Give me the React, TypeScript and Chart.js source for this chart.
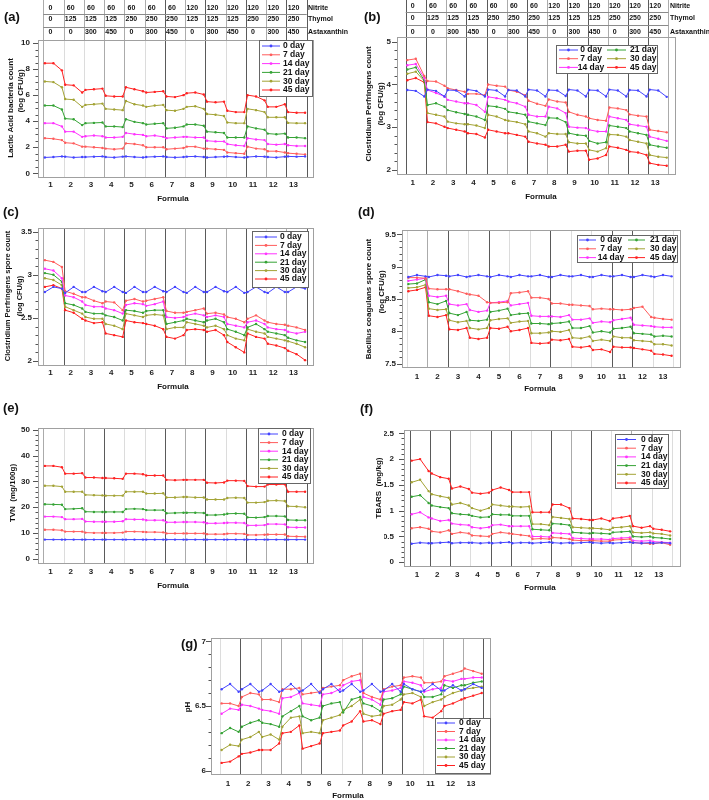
import React, { useEffect, useRef } from 'react';
import { Chart, registerables } from 'chart.js';
Chart.register(...registerables);

const FONT = '"Liberation Sans", Arial, Helvetica, sans-serif';
Chart.defaults.font.family = FONT;

// ---------- shared categories ----------
const formulas = [1, 2, 3, 4, 5, 6, 7, 8, 9, 10, 11, 12, 13];
const nitrite = ['0', '60', '60', '60', '60', '60', '60', '120', '120', '120', '120', '120', '120'];
const thymol = ['0', '125', '125', '125', '250', '250', '250', '125', '125', '125', '250', '250', '250'];
const astaxanthin = ['0', '0', '300', '450', '0', '300', '450', '0', '300', '450', '0', '300', '450'];
const dayLabels = ['0 day', '7 day', '14 day', '21 day', '30 day', '45 day'];
const dayColors = ['#4444ff', '#ff5c5c', '#ff33ff', '#35a335', '#a3a335', '#ff2222'];
const pointOffsets = [0.08, 0.5, 0.92];

// ---------- (a) Lactic acid bacteria ----------
const labDay0 = [1.22,1.25,1.3, 1.28,1.22,1.25, 1.25,1.28,1.3, 1.25,1.22,1.28, 1.3,1.25,1.22, 1.25,1.28,1.3, 1.25,1.22,1.25, 1.28,1.3,1.25, 1.22,1.25,1.28, 1.3,1.25,1.22, 1.25,1.3,1.28, 1.25,1.22,1.28, 1.3,1.28,1.3];
const labDay7 = [2.7,2.65,2.55, 2.35,2.3,2.05, 2.05,2.0,1.95, 1.9,1.85,1.9, 2.3,2.25,2.15, 2.0,2.0,2.0, 1.85,1.9,1.95, 2.05,2.05,1.9, 1.9,1.85,1.8, 1.6,1.55,1.5, 2.05,1.9,1.85, 1.7,1.7,1.6, 1.55,1.5,1.45];
const labDay14 = [3.85,3.85,3.6, 3.2,3.2,2.8, 2.85,2.9,2.85, 2.75,2.75,2.8, 3.1,3.0,2.95, 2.85,2.9,2.8, 2.7,2.75,2.8, 2.8,2.75,2.75, 2.5,2.45,2.45, 2.25,2.15,2.1, 2.7,2.6,2.55, 2.25,2.2,2.25, 2.15,2.1,2.1];
const labDay21 = [5.2,5.2,4.9, 4.2,4.15,3.7, 3.85,3.87,3.9, 3.6,3.6,3.55, 4.15,3.95,3.85, 3.75,3.8,3.85, 3.45,3.5,3.6, 3.75,3.75,3.65, 3.2,3.15,3.1, 2.75,2.75,2.75, 3.6,3.45,3.35, 3.05,3.0,3.05, 2.75,2.75,2.7];
const labDay30 = [7.05,7.0,6.6, 5.7,5.65,5.1, 5.25,5.3,5.35, 4.95,4.9,4.85, 5.55,5.3,5.2, 5.1,5.2,5.25, 4.85,4.8,4.95, 5.1,5.15,4.95, 4.55,4.5,4.4, 3.9,3.85,3.85, 4.95,4.85,4.7, 4.3,4.3,4.3, 3.87,3.85,3.85];
const labDay45 = [8.45,8.45,7.9, 6.8,6.75,6.2, 6.4,6.45,6.5, 5.95,5.9,5.9, 6.6,6.45,6.3, 6.2,6.25,6.3, 5.9,5.85,6.0, 6.15,6.2,6.05, 5.5,5.45,5.5, 4.8,4.7,4.7, 6.0,5.9,5.6, 5.1,5.1,5.3, 4.7,4.65,4.65];

// ---------- (b) Clostridium perfringens count ----------
const cpDay0 = [3.87,3.85,3.72, 3.88,3.85,3.72, 3.87,3.86,3.72, 3.88,3.85,3.72, 3.88,3.86,3.72, 3.87,3.86,3.72, 3.88,3.86,3.72, 3.87,3.86,3.73, 3.88,3.86,3.72, 3.87,3.86,3.72, 3.88,3.86,3.72, 3.87,3.86,3.72, 3.88,3.86,3.71];
const cpDay7 = [4.57,4.6,4.2, 4.08,4.07,3.97, 3.91,3.87,3.83, 3.78,3.78,3.75, 4.0,3.97,3.95, 3.87,3.83,3.75, 3.62,3.55,3.5, 3.65,3.6,3.58, 3.36,3.29,3.25, 3.21,3.17,3.15, 3.46,3.44,3.4, 3.3,3.27,3.25, 2.94,2.91,2.88];
const cpDay14 = [4.45,4.48,4.15, 3.87,3.8,3.72, 3.64,3.6,3.56, 3.56,3.52,3.36, 3.71,3.68,3.64, 3.6,3.56,3.48, 3.29,3.25,3.25, 3.48,3.44,3.33, 3.01,2.99,2.98, 2.94,2.9,2.9, 3.25,3.21,3.17, 3.07,3.04,3.01, 2.78,2.73,2.68];
const cpDay21 = [4.35,4.4,4.1, 3.52,3.56,3.48, 3.4,3.35,3.31, 3.29,3.25,3.17, 3.5,3.48,3.43, 3.36,3.33,3.29, 3.13,3.09,3.05, 3.22,3.21,3.12, 2.86,2.82,2.8, 2.68,2.62,2.65, 3.04,3.01,2.98, 2.9,2.86,2.82, 2.59,2.55,2.52];
const cpDay30 = [4.25,4.3,4.08, 3.33,3.29,3.25, 3.13,3.09,3.07, 3.07,3.04,2.98, 3.29,3.25,3.17, 3.15,3.12,3.07, 2.9,2.86,2.78, 2.86,2.84,2.84, 2.65,2.62,2.62, 2.47,2.43,2.51, 2.83,2.82,2.78, 2.7,2.66,2.62, 2.35,2.31,2.29];
const cpDay45 = [4.1,4.15,4.05, 3.12,3.09,3.01, 2.98,2.94,2.9, 2.86,2.84,2.76, 2.94,2.9,2.86, 2.86,2.82,2.78, 2.66,2.62,2.59, 2.55,2.55,2.59, 2.43,2.45,2.45, 2.24,2.27,2.35, 2.55,2.52,2.47, 2.43,2.41,2.35, 2.16,2.12,2.1];

// ---------- (c) Clostridium perfringens spore count ----------
const cpsDay0 = [2.8,2.86,2.84, 2.79,2.86,2.8, 2.8,2.86,2.81, 2.8,2.86,2.8, 2.79,2.86,2.8, 2.8,2.86,2.81, 2.8,2.86,2.8, 2.79,2.86,2.8, 2.8,2.86,2.81, 2.8,2.86,2.79, 2.8,2.86,2.8, 2.79,2.86,2.8, 2.8,2.86,2.84];
const cpsDay7 = [3.17,3.15,3.09, 2.81,2.78,2.74, 2.74,2.7,2.67, 2.69,2.68,2.59, 2.7,2.72,2.69, 2.7,2.72,2.74, 2.58,2.56,2.56, 2.57,2.59,2.61, 2.55,2.56,2.54, 2.51,2.49,2.45, 2.49,2.53,2.47, 2.45,2.43,2.42, 2.41,2.39,2.36];
const cpsDay14 = [3.07,3.05,2.96, 2.76,2.74,2.69, 2.65,2.63,2.63, 2.61,2.59,2.55, 2.65,2.67,2.66, 2.64,2.66,2.69, 2.51,2.5,2.51, 2.53,2.55,2.53, 2.51,2.53,2.51, 2.43,2.41,2.39, 2.45,2.47,2.43, 2.39,2.37,2.36, 2.34,2.32,2.34];
const cpsDay21 = [3.02,3.0,2.92, 2.67,2.65,2.61, 2.57,2.55,2.55, 2.53,2.51,2.47, 2.59,2.58,2.56, 2.58,2.59,2.59, 2.43,2.45,2.47, 2.49,2.47,2.45, 2.47,2.49,2.45, 2.37,2.34,2.3, 2.39,2.43,2.37, 2.34,2.32,2.3, 2.27,2.24,2.22];
const cpsDay30 = [2.96,2.94,2.88, 2.63,2.59,2.55, 2.51,2.49,2.49, 2.43,2.41,2.37, 2.55,2.53,2.51, 2.53,2.54,2.53, 2.37,2.39,2.39, 2.45,2.43,2.41, 2.39,2.41,2.37, 2.3,2.26,2.24, 2.37,2.34,2.32, 2.28,2.26,2.24, 2.23,2.2,2.16];
const cpsDay45 = [2.86,2.88,2.84, 2.59,2.56,2.49, 2.47,2.44,2.45, 2.32,2.3,2.28, 2.47,2.45,2.44, 2.43,2.41,2.37, 2.28,2.26,2.3, 2.36,2.37,2.36, 2.34,2.36,2.3, 2.22,2.16,2.1, 2.32,2.28,2.26, 2.2,2.18,2.15, 2.12,2.08,2.01];

// ---------- (d) Bacillus coagulans spore count ----------
const bcDay0 = [8.84,8.87,8.85, 8.84,8.87,8.86, 8.85,8.87,8.84, 8.85,8.87,8.85, 8.84,8.87,8.85, 8.84,8.87,8.85, 8.85,8.87,8.84, 8.84,8.87,8.85, 8.85,8.87,8.84, 8.84,8.87,8.85, 8.85,8.87,8.84, 8.84,8.87,8.85, 8.84,8.87,8.85];
const bcDay7 = [8.83,8.83,8.82, 8.66,8.65,8.65, 8.65,8.62,8.58, 8.57,8.55,8.45, 8.44,8.44,8.45, 8.59,8.6,8.62, 8.52,8.52,8.5, 8.43,8.43,8.41, 8.41,8.4,8.39, 8.34,8.35,8.34, 8.34,8.33,8.34, 8.36,8.38,8.22, 8.21,8.19,8.18];
const bcDay14 = [8.78,8.8,8.82, 8.55,8.53,8.55, 8.42,8.4,8.42, 8.33,8.3,8.32, 8.44,8.45,8.47, 8.4,8.42,8.44, 8.24,8.23,8.23, 8.23,8.22,8.25, 8.18,8.18,8.2, 8.13,8.15,8.14, 8.17,8.19,8.21, 8.1,8.09,8.08, 8.07,8.06,8.06];
const bcDay21 = [8.73,8.74,8.8, 8.45,8.42,8.47, 8.28,8.25,8.3, 8.17,8.16,8.18, 8.3,8.32,8.35, 8.25,8.27,8.28, 8.12,8.12,8.11, 8.12,8.13,8.15, 8.05,8.05,8.08, 7.98,8.0,7.98, 8.04,8.05,8.07, 7.97,7.96,7.95, 7.92,7.93,7.92];
const bcDay30 = [8.67,8.68,8.72, 8.35,8.33,8.34, 8.17,8.14,8.16, 8.05,8.03,8.05, 8.17,8.19,8.2, 8.13,8.15,8.16, 7.97,7.97,7.98, 8.0,7.99,8.02, 7.9,7.89,7.92, 7.85,7.87,7.85, 7.92,7.9,7.9, 7.86,7.85,7.84, 7.8,7.8,7.78];
const bcDay45 = [8.62,8.64,8.68, 8.24,8.22,8.25, 8.03,8.02,8.05, 7.9,7.88,7.9, 8.05,8.04,8.07, 8.0,8.02,8.05, 7.82,7.81,7.82, 7.87,7.86,7.88, 7.76,7.75,7.77, 7.71,7.72,7.68, 7.76,7.75,7.75, 7.74,7.72,7.7, 7.65,7.64,7.62];

// ---------- (e) TVN ----------
const tvnDay0 = [7.5,7.5,7.5, 7.5,7.5,7.5, 7.5,7.5,7.5, 7.5,7.5,7.5, 7.5,7.5,7.5, 7.5,7.5,7.5, 7.5,7.5,7.5, 7.5,7.5,7.5, 7.5,7.5,7.5, 7.5,7.5,7.5, 7.5,7.5,7.5, 7.5,7.5,7.5, 7.5,7.5,7.5];
const tvnDay7 = [11.3,11.3,11.1, 10.6,10.6,10.6, 10.2,10.1,10.1, 10.1,10.1,10.2, 10.6,10.6,10.5, 10.4,10.4,10.3, 9.9,9.9,9.9, 9.9,9.9,9.9, 9.6,9.6,9.6, 9.8,9.8,9.7, 9.3,9.3,9.4, 9.5,9.5,9.5, 8.8,8.7,8.6];
const tvnDay14 = [16.4,16.4,16.2, 15.4,15.4,15.5, 14.5,14.4,14.4, 14.4,14.4,14.6, 15.4,15.3,15.3, 15.0,15.0,15.0, 14.2,14.2,14.3, 14.3,14.3,14.2, 13.8,13.8,13.9, 14.0,14.0,13.9, 13.0,13.0,13.1, 13.5,13.5,13.4, 12.3,12.2,12.2];
const tvnDay21 = [21.2,21.1,21.0, 19.3,19.4,19.6, 18.3,18.2,18.2, 18.2,18.2,18.2, 19.3,19.4,19.3, 18.9,18.9,18.9, 17.7,17.8,17.9, 17.9,17.9,17.8, 17.0,17.0,17.2, 17.5,17.6,17.5, 16.1,16.0,16.2, 16.6,16.6,16.5, 15.1,15.0,15.0];
const tvnDay30 = [28.3,28.3,28.0, 26.0,26.0,26.0, 24.8,24.7,24.6, 24.5,24.5,24.5, 26.0,26.0,26.0, 25.3,25.3,25.4, 23.8,23.8,24.0, 24.0,23.8,23.8, 23.0,23.0,23.0, 23.6,23.7,23.6, 21.8,21.8,22.0, 22.5,22.6,22.4, 20.4,20.3,20.0];
const tvnDay45 = [36.0,36.0,35.5, 33.0,33.0,33.2, 31.5,31.5,31.3, 31.3,31.2,31.0, 33.0,33.0,32.8, 32.3,32.3,32.3, 30.6,30.5,30.6, 30.6,30.6,30.6, 29.5,29.4,29.6, 30.3,30.3,30.2, 28.2,28.0,28.0, 28.8,28.8,28.9, 26.0,26.0,26.0];

// ---------- (f) TBARS ----------
const tbDay0 = [0.36,0.38,0.37, 0.37,0.38,0.39, 0.37,0.38,0.38, 0.38,0.37,0.38, 0.37,0.38,0.39, 0.37,0.38,0.38, 0.37,0.38,0.39, 0.38,0.37,0.38, 0.37,0.38,0.39, 0.38,0.37,0.38, 0.37,0.38,0.39, 0.38,0.37,0.38, 0.37,0.38,0.37];
const tbDay7 = [0.66,0.68,0.65, 0.6,0.58,0.62, 0.55,0.58,0.56, 0.52,0.51,0.5, 0.55,0.58,0.56, 0.55,0.53,0.51, 0.45,0.46,0.45, 0.48,0.47,0.45, 0.43,0.42,0.42, 0.42,0.41,0.41, 0.43,0.44,0.45, 0.38,0.37,0.36, 0.36,0.38,0.34];
const tbDay14 = [0.93,0.97,0.87, 0.85,0.8,0.82, 0.75,0.73,0.72, 0.68,0.66,0.68, 0.72,0.73,0.7, 0.7,0.7,0.7, 0.5,0.5,0.49, 0.57,0.56,0.55, 0.47,0.46,0.45, 0.45,0.45,0.44, 0.46,0.47,0.48, 0.42,0.41,0.42, 0.4,0.39,0.38];
const tbDay21 = [1.27,1.3,1.15, 1.1,1.07,1.05, 0.95,0.93,0.92, 0.9,0.87,0.88, 0.93,0.92,0.92, 0.9,0.9,0.9, 0.64,0.63,0.62, 0.75,0.74,0.72, 0.58,0.57,0.56, 0.57,0.56,0.55, 0.58,0.59,0.6, 0.5,0.49,0.5, 0.48,0.47,0.45];
const tbDay30 = [1.55,1.6,1.38, 1.32,1.28,1.25, 1.12,1.15,1.1, 1.05,1.0,1.05, 1.12,1.1,1.08, 1.08,1.07,1.08, 0.74,0.74,0.72, 0.88,0.86,0.84, 0.68,0.67,0.66, 0.66,0.65,0.63, 0.67,0.68,0.7, 0.58,0.57,0.58, 0.56,0.55,0.52];
const tbDay45 = [1.97,2.0,1.77, 1.72,1.65,1.62, 1.43,1.47,1.42, 1.35,1.33,1.35, 1.4,1.45,1.4, 1.36,1.36,1.36, 0.97,0.97,0.97, 1.12,1.12,1.05, 0.85,0.84,0.82, 0.82,0.85,0.8, 0.85,0.87,0.9, 0.7,0.67,0.7, 0.65,0.63,0.6];

// ---------- (g) pH ----------
const phDay0 = [6.63,6.67,6.61, 6.63,6.67,6.61, 6.62,6.67,6.61, 6.62,6.67,6.61, 6.62,6.67,6.6, 6.63,6.67,6.61, 6.62,6.67,6.61, 6.62,6.67,6.61, 6.62,6.67,6.61, 6.67,6.63,6.61, 6.62,6.67,6.62, 6.62,6.66,6.62, 6.63,6.67,6.64];
const phDay7 = [6.52,6.52,6.5, 6.57,6.6,6.59, 6.55,6.55,6.53, 6.63,6.63,6.64, 6.59,6.6,6.61, 6.64,6.65,6.66, 6.7,6.73,6.75, 6.6,6.57,6.55, 6.63,6.65,6.66, 6.72,6.73,6.72, 6.68,6.68,6.69, 6.73,6.75,6.77, 6.79,6.77,6.75];
const phDay14 = [6.44,6.48,6.47, 6.51,6.5,6.48, 6.47,6.46,6.44, 6.56,6.57,6.6, 6.52,6.51,6.5, 6.59,6.6,6.63, 6.66,6.69,6.7, 6.57,6.55,6.51, 6.61,6.62,6.64, 6.69,6.68,6.66, 6.61,6.63,6.64, 6.7,6.69,6.71, 6.71,6.72,6.72];
const phDay21 = [6.29,6.33,6.3, 6.34,6.37,6.39, 6.37,6.36,6.34, 6.42,6.46,6.5, 6.42,6.39,6.41, 6.5,6.52,6.53, 6.45,6.55,6.57, 6.52,6.5,6.46, 6.55,6.56,6.59, 6.65,6.63,6.61, 6.57,6.57,6.59, 6.66,6.64,6.66, 6.66,6.68,6.69];
const phDay30 = [6.16,6.2,6.19, 6.24,6.26,6.3, 6.26,6.28,6.24, 6.34,6.41,6.42, 6.29,6.3,6.29, 6.39,6.41,6.43, 6.47,6.5,6.55, 6.44,6.42,6.43, 6.5,6.51,6.55, 6.59,6.6,6.57, 6.5,6.53,6.55, 6.57,6.6,6.62, 6.63,6.64,6.65];
const phDay45 = [6.06,6.07,6.11, 6.13,6.14,6.16, 6.16,6.16,6.21, 6.29,6.3,6.35, 6.17,6.19,6.21, 6.29,6.3,6.31, 6.35,6.38,6.46, 6.38,6.39,6.36, 6.44,6.46,6.47, 6.53,6.52,6.55, 6.42,6.41,6.46, 6.5,6.52,6.55, 6.56,6.58,6.6];

// ---------- layout ----------
const YW = 20;
const XH = 14;
const SHADES = ['#dcdcdc', '#ababab', '#5a5a5a'];

type LegendCol = { s0: number; s1: number; tx: number; align: CanvasTextAlign };
type Panel = {
  tag: string;
  canvas: number[];
  area: number[];
  xRange: number[];
  yRange: number[];
  yTicks: number[];
  minor: number;
  tickOff: number;
  labelPad: number;
  yPad: number;
  shades: number[];
  yTitle: { text: string; x: number; y: number }[];
  yTitleSize: number;
  xTitle: number[];
  tagPos: number[];
  legend: { box: number[]; r0: number; rowH: number; perCol: number; cols: LegendCol[] };
  series: number[][];
  table?: { rows: number[]; hlines: number[]; labelX: number };
};

const panels: Panel[] = [
  {
    tag: '(a)', canvas: [0, 0, 355, 205], area: [38, 40, 313, 177],
    xRange: [0.24, 13.81], yRange: [-0.28, 10.23], yTicks: [0, 2, 4, 6, 8, 10], minor: 0.5,
    tickOff: -0.15, labelPad: 3, yPad: 8,
    shades: [1, 0, 0, 1, 1, 0, 2, 0, 2, 0, 2, 1, 2, 2],
    yTitle: [{ text: 'Lactic Acid bacteria count', x: 11, y: 108 }, { text: '(log CFU/g)', x: 21, y: 91 }], yTitleSize: 8,
    xTitle: [173, 199], tagPos: [4, 17],
    legend: { box: [259, 40, 53, 56], r0: 46, rowH: 8.8, perCol: 6, cols: [{ s0: 262, s1: 280, tx: 283, align: 'left' }] },
    series: [labDay0, labDay7, labDay14, labDay21, labDay30, labDay45],
    table: { rows: [8, 19.5, 32.5], hlines: [13.5, 26.5], labelX: 308 },
  },
  {
    tag: '(b)', canvas: [355, 0, 354, 205], area: [397, 37, 675, 174],
    xRange: [0.07, 13.83], yRange: [1.906, 5.11], yTicks: [2, 3, 4, 5], minor: 0.2,
    tickOff: -0.15, labelPad: 4, yPad: 6,
    shades: [2, 2, 1, 2, 2, 1, 2, 1, 2, 2, 1, 2, 2, 1],
    yTitle: [{ text: 'Clostridium Perfringens count', x: 369, y: 104 }, { text: '(log CFU/g)', x: 381, y: 104 }], yTitleSize: 8,
    xTitle: [541, 197], tagPos: [364, 17],
    legend: { box: [556, 45, 101, 28], r0: 50, rowH: 8.7, perCol: 3, cols: [{ s0: 559, s1: 578, tx: 591, align: 'center' }, { s0: 607, s1: 626, tx: 630, align: 'left' }] },
    series: [cpDay0, cpDay7, cpDay14, cpDay21, cpDay30, cpDay45],
    table: { rows: [6, 18.3, 31.7], hlines: [11.8, 25], labelX: 670 },
  },
  {
    tag: '(c)', canvas: [0, 205, 355, 195], area: [38, 228, 313, 365],
    xRange: [0.24, 13.81], yRange: [1.954, 3.543], yTicks: [2, 2.5, 3, 3.5], minor: 0.1,
    tickOff: -0.15, labelPad: 3, yPad: 6,
    shades: [1, 2, 0, 1, 2, 1, 2, 1, 2, 1, 2, 0, 1, 2],
    yTitle: [{ text: 'Clostridium Perfringens spore count', x: 8, y: 296 }, { text: '(log CFU/g)', x: 20, y: 296 }], yTitleSize: 7.5,
    xTitle: [173, 387], tagPos: [3, 212],
    legend: { box: [252, 231, 56, 56], r0: 237, rowH: 8.4, perCol: 6, cols: [{ s0: 255, s1: 277, tx: 280, align: 'left' }] },
    series: [cpsDay0, cpsDay7, cpsDay14, cpsDay21, cpsDay30, cpsDay45],
  },
  {
    tag: '(d)', canvas: [355, 205, 354, 195], area: [402, 230, 680, 367],
    xRange: [0.27, 13.83], yRange: [7.447, 9.567], yTicks: [7.5, 8, 8.5, 9, 9.5], minor: 0.1,
    tickOff: 0, labelPad: 5, yPad: 6,
    shades: [0, 1, 2, 0, 2, 0, 0, 2, 0, 0, 2, 2, 0, 0],
    yTitle: [{ text: 'Bacillus coagulans spore count', x: 369, y: 299 }, { text: '(log CFU/g)', x: 382, y: 292 }], yTitleSize: 8,
    xTitle: [540, 389], tagPos: [358, 212],
    legend: { box: [577, 235, 100, 27], r0: 240, rowH: 8.8, perCol: 3, cols: [{ s0: 579, s1: 596, tx: 611, align: 'center' }, { s0: 628, s1: 645, tx: 650, align: 'left' }] },
    series: [bcDay0, bcDay7, bcDay14, bcDay21, bcDay30, bcDay45],
  },
  {
    tag: '(e)', canvas: [0, 400, 355, 200], area: [38, 428, 313, 563],
    xRange: [0.24, 13.81], yRange: [-1.55, 50.66], yTicks: [0, 10, 20, 30, 40, 50], minor: 2,
    tickOff: -0.15, labelPad: 4, yPad: 8,
    shades: [1, 0, 1, 2, 0, 0, 2, 1, 2, 0, 2, 1, 2, 2],
    yTitle: [{ text: 'TVN  (mg/100g)', x: 13, y: 493 }], yTitleSize: 8,
    xTitle: [173, 586], tagPos: [3, 408],
    legend: { box: [258, 428, 52, 55], r0: 434, rowH: 8.6, perCol: 6, cols: [{ s0: 260, s1: 278, tx: 282, align: 'left' }] },
    series: [tvnDay0, tvnDay7, tvnDay14, tvnDay21, tvnDay30, tvnDay45],
  },
  {
    tag: '(f)', canvas: [355, 400, 354, 200], area: [404, 430, 680, 566],
    xRange: [0.2, 13.91], yRange: [-0.072, 2.564], yTicks: [0, 0.5, 1, 1.5, 2, 2.5], minor: 0.1,
    tickOff: -0.15, labelPad: 4, yPad: 10,
    shades: [2, 2, 2, 0, 2, 2, 0, 2, 1, 2, 0, 1, 0, 0],
    yTitle: [{ text: 'TBARS  (mg/kg)', x: 379, y: 488 }], yTitleSize: 8,
    xTitle: [540, 588], tagPos: [360, 409],
    legend: { box: [615, 434, 53, 54], r0: 439.5, rowH: 8.7, perCol: 6, cols: [{ s0: 617, s1: 636, tx: 641, align: 'left' }] },
    series: [tbDay0, tbDay7, tbDay14, tbDay21, tbDay30, tbDay45],
  },
  {
    tag: '(g)', canvas: [170, 620, 370, 180], area: [211, 638, 490, 774],
    xRange: [0.056, 13.83], yRange: [5.974, 7.026], yTicks: [6, 6.5, 7], minor: 0.1,
    tickOff: -0.11, labelPad: 5, yPad: 5,
    shades: [0, 2, 1, 1, 1, 2, 0, 1, 2, 2, 0, 1, 1, 2],
    yTitle: [{ text: 'pH', x: 188, y: 707 }], yTitleSize: 8,
    xTitle: [348, 796], tagPos: [181, 644],
    legend: { box: [435, 718, 55, 55], r0: 723, rowH: 8.5, perCol: 6, cols: [{ s0: 437, s1: 455, tx: 459, align: 'left' }] },
    series: [phDay0, phDay7, phDay14, phDay21, phDay30, phDay45],
  },
];

function decor(p: Panel) {
  const ox = p.canvas[0];
  const oy = p.canvas[1];
  return {
    id: 'decor',
    beforeDatasetsDraw(chart: any) {
      const ctx = chart.ctx;
      const xs = chart.scales.x;
      const a = chart.chartArea;
      ctx.save();
      p.shades.forEach((s, j) => {
        const px = Math.round(xs.getPixelForValue(j + 0.5)) + 0.5;
        ctx.strokeStyle = SHADES[s];
        ctx.lineWidth = 1;
        ctx.beginPath();
        ctx.moveTo(px, a.top);
        ctx.lineTo(px, a.bottom);
        ctx.stroke();
      });
      ctx.restore();
    },
    afterDraw(chart: any) {
      const ctx = chart.ctx;
      const xs = chart.scales.x;
      const ys = chart.scales.y;
      const a = chart.chartArea;
      ctx.save();
      // frame
      ctx.strokeStyle = '#a0a0a0';
      ctx.lineWidth = 1;
      ctx.strokeRect(Math.round(a.left) + 0.5, Math.round(a.top) + 0.5, Math.round(a.right - a.left), Math.round(a.bottom - a.top));
      // y tick marks (major + minor)
      ctx.strokeStyle = '#555';
      const step = p.minor;
      for (let k = Math.ceil(p.yRange[0] / step - 1e-6); k * step <= p.yRange[1] + 1e-9; k++) {
        const v = k * step;
        const major = p.yTicks.some((t) => Math.abs(t - v) < step / 10);
        const py = Math.round(ys.getPixelForValue(v)) + 0.5;
        ctx.beginPath();
        ctx.moveTo(a.left - (major ? 5 : 2.5), py);
        ctx.lineTo(a.left, py);
        ctx.stroke();
      }
      // y titles
      ctx.fillStyle = '#111';
      ctx.font = `bold ${p.yTitleSize}px ${FONT}`;
      ctx.textAlign = 'center';
      ctx.textBaseline = 'middle';
      p.yTitle.forEach((t) => {
        ctx.save();
        ctx.translate(t.x - ox, t.y - oy);
        ctx.rotate(-Math.PI / 2);
        ctx.fillText(t.text, 0, 0);
        ctx.restore();
      });
      // x title
      ctx.font = `bold 8px ${FONT}`;
      ctx.fillText('Formula', p.xTitle[0] - ox, p.xTitle[1] - oy);
      // panel tag
      ctx.font = `bold 13px ${FONT}`;
      ctx.textAlign = 'left';
      ctx.fillText(p.tag, p.tagPos[0] - ox, p.tagPos[1] - oy);
      // table
      if (p.table) {
        const tb = p.table;
        const xl = xs.getPixelForValue(0.5);
        const xr = xs.getPixelForValue(13.5);
        p.shades.forEach((s, j) => {
          const px = Math.round(xs.getPixelForValue(j + 0.5)) + 0.5;
          ctx.strokeStyle = SHADES[Math.max(1, s)];
          ctx.beginPath();
          ctx.moveTo(px, 0);
          ctx.lineTo(px, a.top);
          ctx.stroke();
        });
        ctx.strokeStyle = '#8a8a8a';
        tb.hlines.forEach((hy) => {
          const py = Math.round(hy - oy) + 0.5;
          ctx.beginPath();
          ctx.moveTo(xl, py);
          ctx.lineTo(xr, py);
          ctx.stroke();
        });
        const rows = [nitrite, thymol, astaxanthin];
        const names = ['Nitrite', 'Thymol', 'Astaxanthin'];
        ctx.font = `bold 7px ${FONT}`;
        ctx.fillStyle = '#111';
        rows.forEach((vals, r) => {
          ctx.textAlign = 'center';
          vals.forEach((v, i) => {
            ctx.fillText(v, xs.getPixelForValue(formulas[i] + p.tickOff), tb.rows[r] - oy);
          });
          ctx.textAlign = 'left';
          ctx.fillText(names[r], tb.labelX - ox, tb.rows[r] - oy);
        });
      }
      // legend
      const lg = p.legend;
      const [bx, by, bw, bh] = lg.box;
      ctx.fillStyle = '#fff';
      ctx.fillRect(bx - ox, by - oy, bw, bh);
      ctx.strokeStyle = '#666';
      ctx.strokeRect(bx - ox + 0.5, by - oy + 0.5, bw, bh);
      ctx.font = `bold 8.5px ${FONT}`;
      ctx.textBaseline = 'middle';
      dayLabels.forEach((lab, i) => {
        const c = lg.cols[Math.floor(i / lg.perCol)];
        const ry = lg.r0 + (i % lg.perCol) * lg.rowH - oy;
        ctx.strokeStyle = dayColors[i];
        ctx.lineWidth = 1;
        ctx.beginPath();
        ctx.moveTo(c.s0 - ox, ry);
        ctx.lineTo(c.s1 - ox, ry);
        ctx.stroke();
        ctx.fillStyle = dayColors[i];
        ctx.beginPath();
        ctx.arc((c.s0 + c.s1) / 2 - ox, ry, 1.4, 0, Math.PI * 2);
        ctx.fill();
        ctx.fillStyle = '#111';
        ctx.textAlign = c.align;
        ctx.fillText(lab, c.tx - ox, ry);
      });
      ctx.restore();
    },
  };
}

function buildConfig(p: Panel): any {
  const [L, T, W, H] = p.canvas;
  const [l, t, r, b] = p.area;
  const tickFont = { family: FONT, size: 8, weight: 'bold' as const };
  return {
    type: 'line',
    data: {
      datasets: p.series.map((arr, d) => ({
        label: dayLabels[d],
        data: arr.map((v, k) => ({ x: formulas[Math.floor(k / 3)] - 0.5 + pointOffsets[k % 3], y: v })),
        borderColor: dayColors[d],
        backgroundColor: dayColors[d],
        borderWidth: 1,
        pointRadius: 1.2,
        pointBorderWidth: 0,
        pointHoverRadius: 0,
        fill: false,
        tension: 0,
      })),
    },
    options: {
      responsive: false,
      animation: false,
      events: [],
      layout: { padding: { left: l - L - YW, top: t - T, right: L + W - r, bottom: T + H - b - XH } },
      plugins: { legend: { display: false }, title: { display: false }, tooltip: { enabled: false } },
      scales: {
        x: {
          type: 'linear',
          min: p.xRange[0],
          max: p.xRange[1],
          grid: { display: false, drawTicks: false },
          border: { display: false },
          afterBuildTicks: (s: any) => {
            s.ticks = formulas.map((f) => ({ value: f + p.tickOff }));
          },
          afterFit: (s: any) => {
            s.height = XH;
            s.paddingLeft = 0;
            s.paddingRight = 0;
          },
          ticks: {
            autoSkip: false,
            maxRotation: 0,
            minRotation: 0,
            padding: p.labelPad,
            font: tickFont,
            color: '#222',
            callback: (_v: any, i: number) => String(formulas[i]),
          },
        },
        y: {
          type: 'linear',
          min: p.yRange[0],
          max: p.yRange[1],
          grid: { display: false, drawTicks: false },
          border: { display: false },
          afterBuildTicks: (s: any) => {
            s.ticks = p.yTicks.map((v) => ({ value: v }));
          },
          afterFit: (s: any) => {
            s.width = YW;
            s.paddingTop = 0;
            s.paddingBottom = 0;
          },
          ticks: { padding: p.yPad, font: tickFont, color: '#222', callback: (v: any) => String(v) },
        },
      },
    },
    plugins: [decor(p)],
  };
}

function PanelChart({ p }: { p: Panel }) {
  const ref = useRef<HTMLCanvasElement>(null);
  useEffect(() => {
    const chart = new Chart(ref.current as HTMLCanvasElement, buildConfig(p));
    return () => chart.destroy();
  }, [p]);
  const [L, T, W, H] = p.canvas;
  return (
    <canvas
      ref={ref}
      width={W}
      height={H}
      style={{ position: 'absolute', left: L, top: T, width: W, height: H }}
    />
  );
}

export default function App() {
  return (
    <div style={{ position: 'absolute', left: 0, top: 0, width: 709, height: 800, background: '#fff', overflow: 'hidden' }}>
      {panels.map((p) => (
        <PanelChart key={p.tag} p={p} />
      ))}
    </div>
  );
}
